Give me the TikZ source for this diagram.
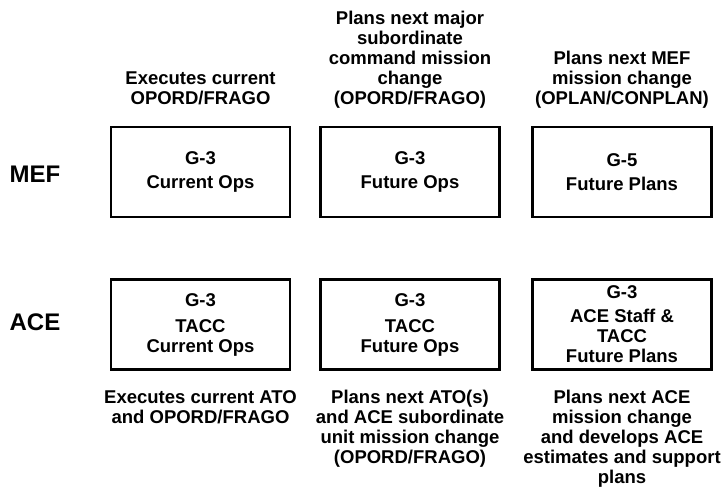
\documentclass[tikz,border=0pt]{standalone}
\usepackage{fontspec}
\setmainfont{Liberation Sans}
\begin{document}
\begin{tikzpicture}[x=1pt,y=-1pt,
  every node/.style={font=\bfseries\fontsize{18.5}{20}\selectfont, align=center, inner sep=0pt},
  unitbox/.style={draw, line width=2.7pt, minimum width=179pt, minimum height=90pt},
  echelon/.style={font=\bfseries\fontsize{24}{28}\selectfont}]
\useasboundingbox[fill=white] (0,0) rectangle (723,489);
% echelon labels
\node[echelon] (mef) at (35,174) {MEF};
\node[echelon] (ace) at (35,322) {ACE};
% MEF boxes
\node[unitbox] (m1) at (200.5,172) {G-3\\[4pt]Current Ops};
\node[unitbox] (m2) at (410,172) {G-3\\[4pt]Future Ops};
\node[unitbox] (m3) at (622,172) {G-5\\[4pt]Future Plans};
% ACE boxes
\node[unitbox] (a1) at (200.5,324.5) {G-3\\[6pt]TACC\\Current Ops};
\node[unitbox] (a2) at (410,324.5) {G-3\\[6pt]TACC\\Future Ops};
\node[unitbox] (a3) at (622,324.5) {G-3\\[4pt]ACE Staff \&\\TACC\\Future Plans};
% top descriptions
\node[anchor=south] (t1) at (200.5,105) {Executes current\\OPORD/FRAGO};
\node[anchor=south] (t2) at (410,109) {Plans next major\\subordinate\\command mission\\change\\(OPORD/FRAGO)};
\node[anchor=south] (t3) at (622,109) {Plans next MEF\\mission change\\(OPLAN/CONPLAN)};
% bottom descriptions
\node[anchor=north] (b1) at (200.5,390) {Executes current ATO\\and OPORD/FRAGO};
\node[anchor=north] (b2) at (410,390) {Plans next ATO(s)\\and ACE subordinate\\unit mission change\\(OPORD/FRAGO)};
\node[anchor=north] (b3) at (622,390) {Plans next ACE\\mission change\\and develops ACE\\estimates and support\\plans};
\end{tikzpicture}
\end{document}
